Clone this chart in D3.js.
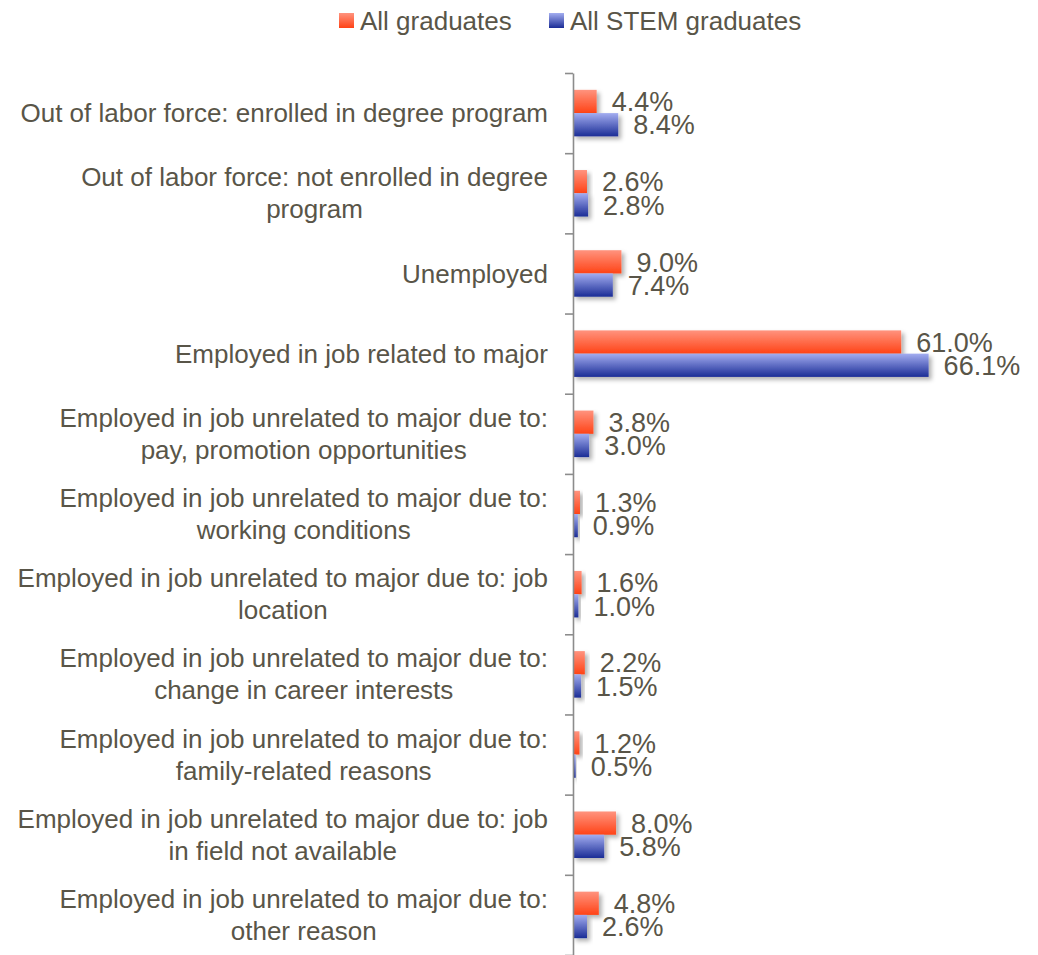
<!DOCTYPE html>
<html><head><meta charset="utf-8">
<script src="https://cdn.jsdelivr.net/npm/d3@7"></script>
<style>body{margin:0;background:#fff}svg{display:block}text{font-family:"Liberation Sans",Arial,sans-serif;fill:#595548}</style>
</head><body>
<script>
const categories = [
  "Out of labor force: enrolled in degree program",
  "Out of labor force: not enrolled in degree\nprogram",
  "Unemployed",
  "Employed in job related to major",
  "Employed in job unrelated to major due to:\npay, promotion opportunities",
  "Employed in job unrelated to major due to:\nworking conditions",
  "Employed in job unrelated to major due to: job\nlocation",
  "Employed in job unrelated to major due to:\nchange in career interests",
  "Employed in job unrelated to major due to:\nfamily-related reasons",
  "Employed in job unrelated to major due to: job\nin field not available",
  "Employed in job unrelated to major due to:\nother reason"
];
const seriesNames = ["All graduates", "All STEM graduates"];
const allGraduates = [4.4, 2.6, 9.0, 61.0, 3.8, 1.3, 1.6, 2.2, 1.2, 8.0, 4.8];
const allStem = [8.4, 2.8, 7.4, 66.1, 3.0, 0.9, 1.0, 1.5, 0.5, 5.8, 2.6];
const seriesValues = [allGraduates, allStem];

const W = 1038, H = 955;
const svg = d3.select("body").append("svg").attr("width", W).attr("height", H);
const defs = svg.append("defs");
const grads = [["#ff937e", "#ff4316"], ["#a3adf0", "#1b2d96"]];
grads.forEach((g, i) => {
  const lg = defs.append("linearGradient").attr("id", "g" + i).attr("x1", 0).attr("y1", 0).attr("x2", 0).attr("y2", 1);
  lg.append("stop").attr("offset", "0%").attr("stop-color", g[0]);
  lg.append("stop").attr("offset", "100%").attr("stop-color", g[1]);
});
const f = defs.append("filter").attr("id", "sh").attr("x", "-20%").attr("y", "-20%").attr("width", "160%").attr("height", "160%");
f.append("feDropShadow").attr("dx", 3).attr("dy", 3).attr("stdDeviation", 2).attr("flood-color", "#000").attr("flood-opacity", 0.3);

const x0 = 573, plotTop = 73, plotBottom = 955;
const x = d3.scaleLinear().domain([0, 70]).range([x0, x0 + 70 * 5.38]);
const y = d3.scaleBand().domain(d3.range(categories.length)).range([plotTop, plotBottom]).padding(0);
const bw = y.bandwidth();
const ys = d3.scaleBand().domain([0, 1]).range([bw * 0.21, bw * 0.79]);

// bars
seriesValues.forEach((vals, s) => {
  const g = svg.append("g");
  g.selectAll("rect").data(vals).join("rect")
    .attr("x", x(0))
    .attr("y", (d, i) => y(i) + ys(s))
    .attr("width", d => x(d) - x(0))
    .attr("height", ys.bandwidth())
    .attr("fill", `url(#g${s})`)
    .attr("filter", "url(#sh)");
  g.selectAll("text").data(vals).join("text")
    .attr("x", d => x(d) + 15)
    .attr("y", (d, i) => y(i) + ys(s) + ys.bandwidth() / 2)
    .attr("dy", "0.36em")
    .attr("font-size", 27)
    .text(d => d.toFixed(1) + "%");
});

// axis
const yIdx = d3.scaleLinear().domain([0, categories.length]).range([plotTop, plotBottom]);
const ax = svg.append("g").attr("transform", `translate(${x0},0)`)
  .call(d3.axisLeft(yIdx).tickValues(d3.range(categories.length + 1)).tickSize(8).tickSizeOuter(0).tickFormat(""));
ax.selectAll("path,line").attr("stroke", "#8c8c8c").attr("stroke-width", 1.6);

// category labels
const lh = 32;
categories.forEach((c, i) => {
  const lines = c.split("\n");
  const cy = y(i) + bw / 2;
  const t = svg.append("text").attr("text-anchor", "middle").attr("font-size", 26);
  lines.forEach((ln, k) => {
    t.append("tspan").attr("x", 0).attr("y", cy + (k - (lines.length - 1) / 2) * lh).attr("dy", "0.35em").text(ln);
  });
  const bb = t.node().getBBox();
  t.attr("transform", `translate(${548 - bb.width / 2},0)`);
});

// legend
const leg = svg.append("g");
const legX = [339, 549];
seriesNames.forEach((n, s) => {
  leg.append("rect").attr("x", legX[s]).attr("y", 13).attr("width", 15).attr("height", 15).attr("fill", `url(#g${s})`);
  leg.append("text").attr("x", legX[s] + 21).attr("y", 20.5).attr("dy", "0.36em").attr("font-size", 26).text(n);
});
</script>
</body></html>
